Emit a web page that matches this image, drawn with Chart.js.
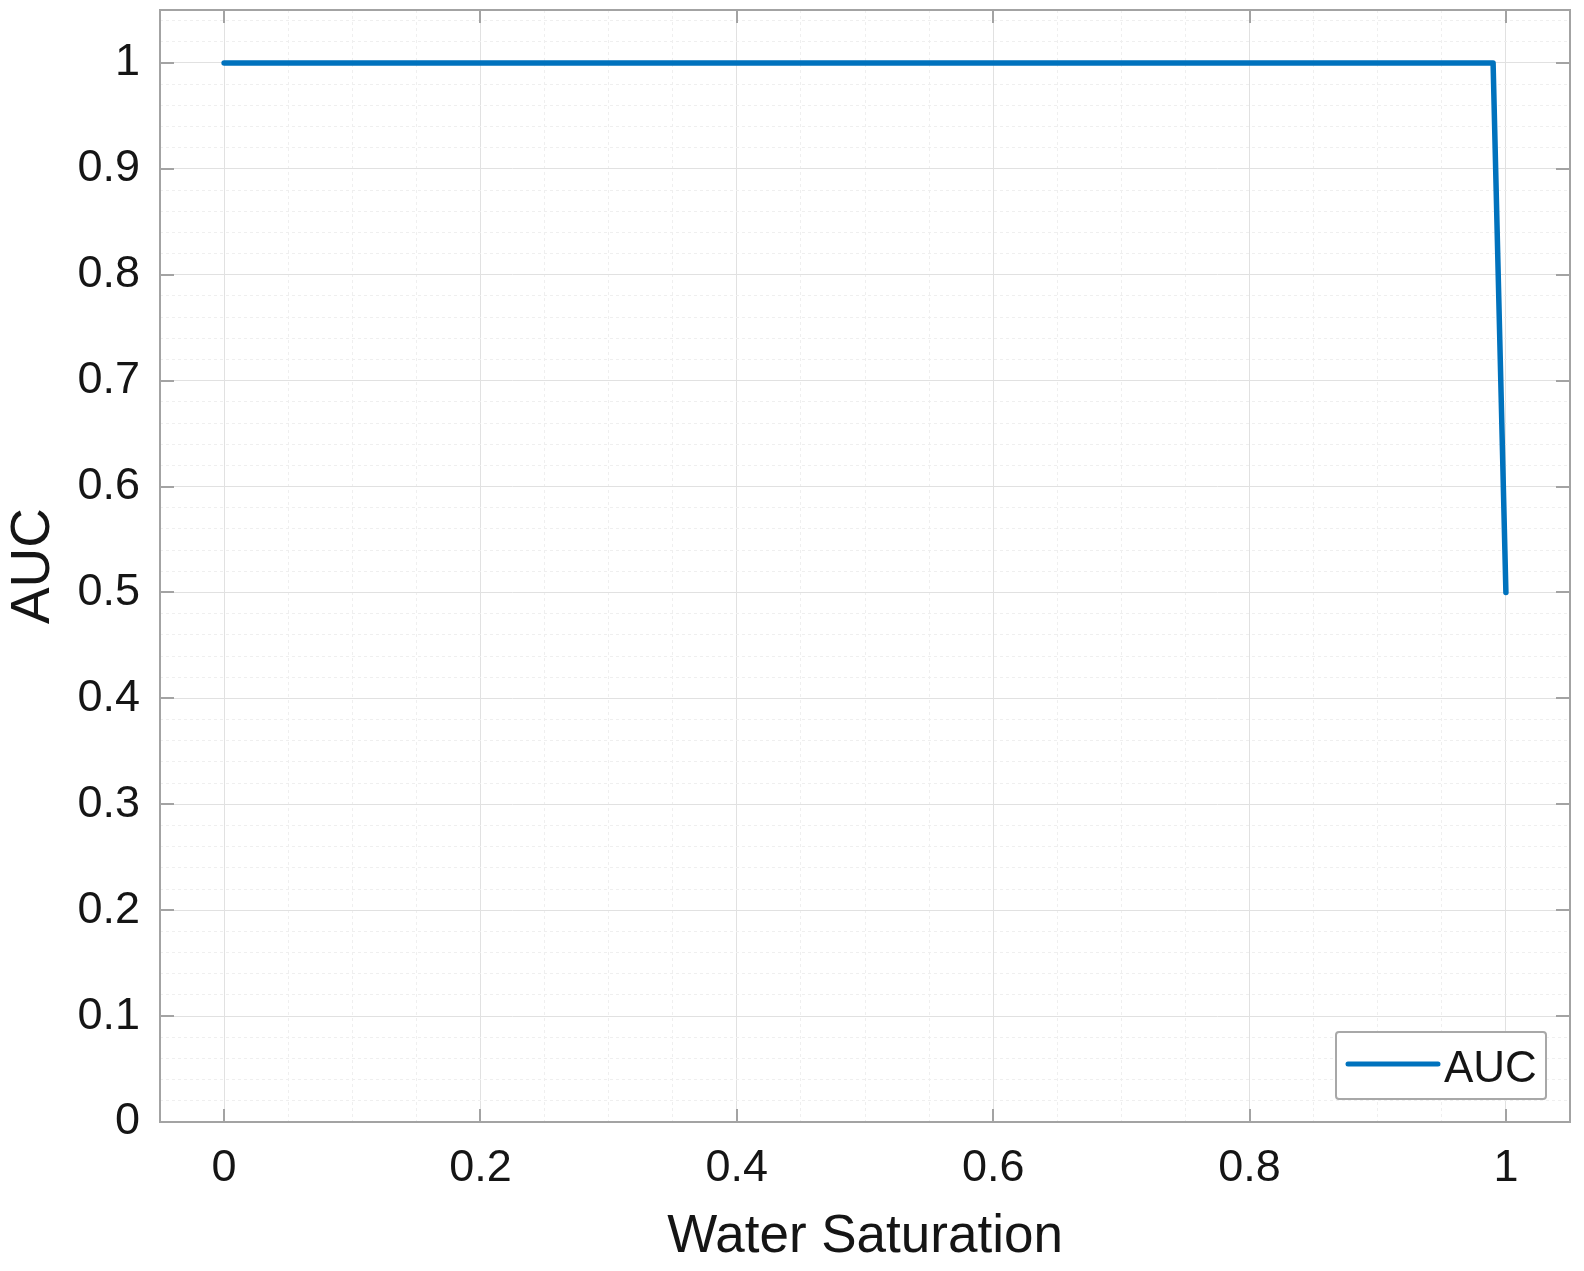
<!DOCTYPE html>
<html><head><meta charset="utf-8">
<script src="https://cdn.jsdelivr.net/npm/chart.js@4/dist/chart.umd.min.js"></script>
<style>html,body{margin:0;padding:0;background:#fff}#wrap{width:1584px;height:1271px;position:relative}</style>
</head><body><div id="wrap"><canvas id="c"></canvas></div>
<script>
const seriesName = 'AUC';
const waterSaturation = [0, 0.99, 1.0];
const aucValues = [1, 1, 0.5];
const xMajorTicks = [0, 0.2, 0.4, 0.6, 0.8, 1];
const xMinorTicks = [-0.05, 0.05, 0.1, 0.15, 0.25, 0.3, 0.35, 0.45, 0.5, 0.55, 0.65, 0.7, 0.75, 0.85, 0.9, 0.95, 1.05];
const yMajorTicks = [0, 0.1, 0.2, 0.3, 0.4, 0.5, 0.6, 0.7, 0.8, 0.9, 1];
const yMinorTicks = [0.02, 0.04, 0.06, 0.08, 0.12, 0.14, 0.16, 0.18, 0.22, 0.24, 0.26, 0.28,
  0.32, 0.34, 0.36, 0.38, 0.42, 0.44, 0.46, 0.48, 0.52, 0.54, 0.56, 0.58, 0.62, 0.64, 0.66, 0.68,
  0.72, 0.74, 0.76, 0.78, 0.82, 0.84, 0.86, 0.88, 0.92, 0.94, 0.96, 0.98, 1.02, 1.04];
const xTitle = 'Water Saturation';
const yTitle = 'AUC';

const FONT = "'Liberation Sans', Arial, Helvetica, sans-serif";
const TEXT = '#151515';
const isIn = (v, arr) => arr.some(m => Math.abs(m - v) < 1e-9);
const fmt = v => String(Math.round(v * 10) / 10);

const frame = {
  id: 'frame',
  afterDatasetsDraw(chart) {
    const {ctx, chartArea: {left, right, top, bottom}, scales: {x, y}} = chart;
    ctx.save();
    ctx.strokeStyle = '#a3a3a3';
    ctx.lineWidth = 2;
    ctx.beginPath();
    xMajorTicks.forEach(v => {
      const px = Math.round(x.getPixelForValue(v));
      ctx.moveTo(px, bottom); ctx.lineTo(px, bottom - 13);
      ctx.moveTo(px, top); ctx.lineTo(px, top + 13);
    });
    yMajorTicks.forEach(v => {
      const py = Math.round(y.getPixelForValue(v));
      ctx.moveTo(left, py); ctx.lineTo(left + 14, py);
      ctx.moveTo(right, py); ctx.lineTo(right - 14, py);
    });
    ctx.stroke();
    ctx.strokeRect(left, top, right - left, bottom - top);

    // legend inside plot, bottom-right
    const ds = chart.data.datasets[0];
    const bw = 210, bh = 67;
    const bx = right - 24 - bw, by = bottom - 23 - bh;
    ctx.fillStyle = '#ffffff';
    ctx.strokeStyle = '#a8a8a8';
    ctx.lineWidth = 2;
    ctx.beginPath();
    if (ctx.roundRect) ctx.roundRect(bx, by, bw, bh, 3); else ctx.rect(bx, by, bw, bh);
    ctx.fill(); ctx.stroke();
    ctx.strokeStyle = ds.borderColor;
    ctx.lineWidth = 5;
    ctx.lineCap = 'round';
    ctx.beginPath();
    ctx.moveTo(bx + 12, by + 32); ctx.lineTo(bx + 102, by + 32);
    ctx.stroke();
    ctx.fillStyle = TEXT;
    ctx.font = '44px ' + FONT;
    ctx.textBaseline = 'alphabetic';
    ctx.textAlign = 'left';
    ctx.fillText(ds.label, bx + 108, by + 50);
    ctx.restore();
  }
};

const gridColor = ticks => ctx => (ctx.tick && isIn(ctx.tick.value, ticks)) ? '#e1e1e1' : '#efefef';
const gridDash = ticks => ctx => (ctx.tick && !isIn(ctx.tick.value, ticks)) ? [3, 3] : [];

new Chart(document.getElementById('c'), {
  type: 'line',
  data: {
    datasets: [{
      label: seriesName,
      data: waterSaturation.map((v, i) => ({x: v, y: aucValues[i]})),
      borderColor: '#0072BD',
      borderWidth: 5.5,
      pointRadius: 0,
      tension: 0,
      fill: false,
      borderCapStyle: 'round',
      borderJoinStyle: 'round'
    }]
  },
  options: {
    responsive: true,
    maintainAspectRatio: false,
    animation: false,
    layout: {autoPadding: false, padding: {top: 10, right: 14, left: 0, bottom: 0}},
    plugins: {legend: {display: false}, tooltip: {enabled: false}},
    scales: {
      x: {
        type: 'linear',
        min: -0.05, max: 1.05,
        afterBuildTicks: s => { s.ticks = [...xMinorTicks, ...xMajorTicks].sort((a, b) => a - b).map(v => ({value: v})); },
        afterFit: s => { s.height = 149; s.paddingLeft = 0; s.paddingRight = 0; s.paddingTop = 0; s.paddingBottom = 0; },
        ticks: {
          autoSkip: false, maxRotation: 0, padding: 20,
          color: TEXT,
          font: {family: FONT, size: 45},
          callback: v => isIn(v, xMajorTicks) ? fmt(v) : ''
        },
        grid: {drawTicks: false, color: gridColor(xMajorTicks), lineWidth: 1},
        border: {display: false, dash: gridDash(xMajorTicks)},
        title: {display: true, text: xTitle, color: TEXT, font: {family: FONT, size: 53}, padding: {top: 0, bottom: 2}}
      },
      y: {
        type: 'linear',
        min: 0, max: 1.05,
        afterBuildTicks: s => { s.ticks = [...yMinorTicks, ...yMajorTicks].sort((a, b) => a - b).map(v => ({value: v})); },
        afterFit: s => { s.width = 160; s.paddingLeft = 0; s.paddingRight = 0; s.paddingTop = 0; s.paddingBottom = 0; },
        ticks: {
          autoSkip: false, padding: 20,
          color: TEXT,
          font: {family: FONT, size: 45},
          callback: v => isIn(v, yMajorTicks) ? fmt(v) : ''
        },
        grid: {drawTicks: false, color: gridColor(yMajorTicks), lineWidth: 1},
        border: {display: false, dash: gridDash(yMajorTicks)},
        title: {display: true, text: yTitle, color: TEXT, font: {family: FONT, size: 55}, padding: {top: 1, bottom: 0}}
      }
    }
  },
  plugins: [frame]
});
</script>
</body></html>
